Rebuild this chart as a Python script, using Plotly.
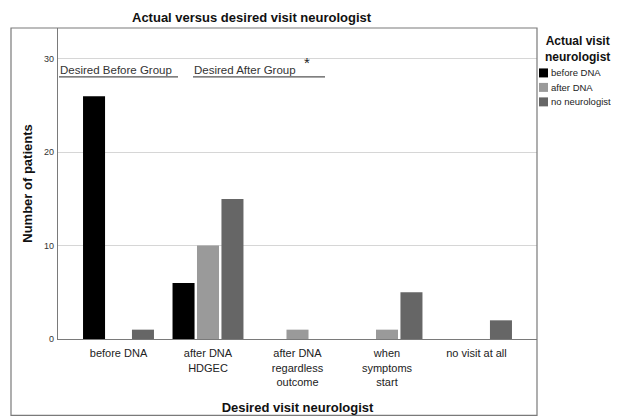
import plotly.graph_objects as go

categories = ["before DNA", "after DNA<br>HDGEC", "after DNA<br>regardless<br>outcome",
              "when<br>symptoms<br>start", "no visit at all"]
series_names = ["before DNA", "after DNA", "no neurologist"]
before_dna = [26, 6, 0, 0, 0]
after_dna = [0, 10, 1, 1, 0]
no_neurologist = [1, 15, 0, 5, 2]
series_values = [before_dna, after_dna, no_neurologist]
colors = ["#000000", "#9a9a9a", "#666666"]
y_ticks = [0, 10, 20, 30]

PAGE_W, PAGE_H = 619, 417
OFF = 8  # default page body margin
W, H = PAGE_W - OFF, PAGE_H - OFF
L, R, T, B = 58, 537, 28, 339.5  # plot area in page pixels
FONT = "Arial, Liberation Sans, sans-serif"

def px(x):  # page pixel x -> paper
    return (x - L) / (R - L)

def py(y):  # page pixel y -> paper
    return (B - y) / (B - T)

fig = go.Figure()
for name, vals, col in zip(series_names, series_values, colors):
    fig.add_trace(go.Bar(x=list(range(len(categories))), y=vals, name=name,
                         marker=dict(color=col, line=dict(width=0)),
                         showlegend=False))

shapes = []
annotations = []
# outer frame
shapes.append(dict(type="rect", xref="paper", yref="paper", x0=px(11), x1=1, y0=py(416), y1=1,
                   line=dict(color="#7a7a7a", width=1.2), layer="above"))
# underlines
shapes.append(dict(type="line", xref="paper", yref="paper", x0=px(59), x1=px(178), y0=py(77), y1=py(77),
                   line=dict(color="#555555", width=1.2)))
shapes.append(dict(type="line", xref="paper", yref="paper", x0=px(193), x1=px(325), y0=py(77), y1=py(77),
                   line=dict(color="#555555", width=1.2)))
annotations.append(dict(text="Desired Before Group", xref="paper", yref="paper", x=px(58), y=py(70),
                        xanchor="left", yanchor="middle", showarrow=False,
                        font=dict(family=FONT, size=11.5, color="#333333")))
annotations.append(dict(text="Desired After Group", xref="paper", yref="paper", x=px(192), y=py(70),
                        xanchor="left", yanchor="middle", showarrow=False,
                        font=dict(family=FONT, size=11.5, color="#333333")))
annotations.append(dict(text="*", xref="paper", yref="paper", x=px(307), y=py(63),
                        xanchor="center", yanchor="middle", showarrow=False,
                        font=dict(family=FONT, size=15, color="#222222")))
# title
annotations.append(dict(text="<b>Actual versus desired visit neurologist</b>", xref="paper", yref="paper",
                        x=px(252), y=py(17), xanchor="center", yanchor="middle", showarrow=False,
                        font=dict(family=FONT, size=13, color="#111111")))
# legend (manual)
annotations.append(dict(text="<b>Actual visit<br>neurologist</b>", xref="paper", yref="paper",
                        x=px(577), y=py(49), xanchor="center", yanchor="middle", showarrow=False,
                        font=dict(family=FONT, size=12, color="#111111")))
for i, (name, col) in enumerate(zip(series_names, colors)):
    yc = 73 + i * 14.5
    shapes.append(dict(type="rect", xref="paper", yref="paper", x0=px(539), x1=px(548),
                       y0=py(yc + 4.5), y1=py(yc - 4.5), fillcolor=col, line=dict(width=0)))
    annotations.append(dict(text=name, xref="paper", yref="paper", x=px(549), y=py(yc),
                            xanchor="left", yanchor="middle", showarrow=False,
                            font=dict(family=FONT, size=9.5, color="#222222")))

fig.update_layout(
    width=W, height=H,
    margin=dict(l=L - OFF, r=PAGE_W - R, t=T - OFF, b=PAGE_H - B, pad=0, autoexpand=False),
    paper_bgcolor="white", plot_bgcolor="white",
    barmode="group", bargap=0.18, bargroupgap=0.1,
    shapes=shapes, annotations=annotations,
    font=dict(family=FONT, color="#222222"),
    showlegend=False,
)
fig.update_xaxes(
    tickmode="array", tickvals=list(range(len(categories))), ticktext=categories,
    range=[-0.676, 4.676], showgrid=False, zeroline=False, automargin=False,
    showline=True, linecolor="#7a7a7a", linewidth=1.2, ticks="",
    tickfont=dict(family=FONT, size=11, color="#222222"), ticklabelstandoff=4,
    title=dict(text="<b>Desired visit neurologist</b>", font=dict(family=FONT, size=13, color="#111111"),
               standoff=15),
)
fig.update_yaxes(
    range=[0, 33.3], tickmode="array", tickvals=y_ticks, automargin=False,
    showgrid=True, gridcolor="#d6d6d6", gridwidth=1, zeroline=False,
    showline=True, linecolor="#7a7a7a", linewidth=1.2, ticks="",
    tickfont=dict(family=FONT, size=9, color="#333333"), ticklabelstandoff=1,
    title=dict(text="<b>Number of patients</b>", font=dict(family=FONT, size=13, color="#111111"),
               standoff=8),
)

fig.write_html("out.html")
